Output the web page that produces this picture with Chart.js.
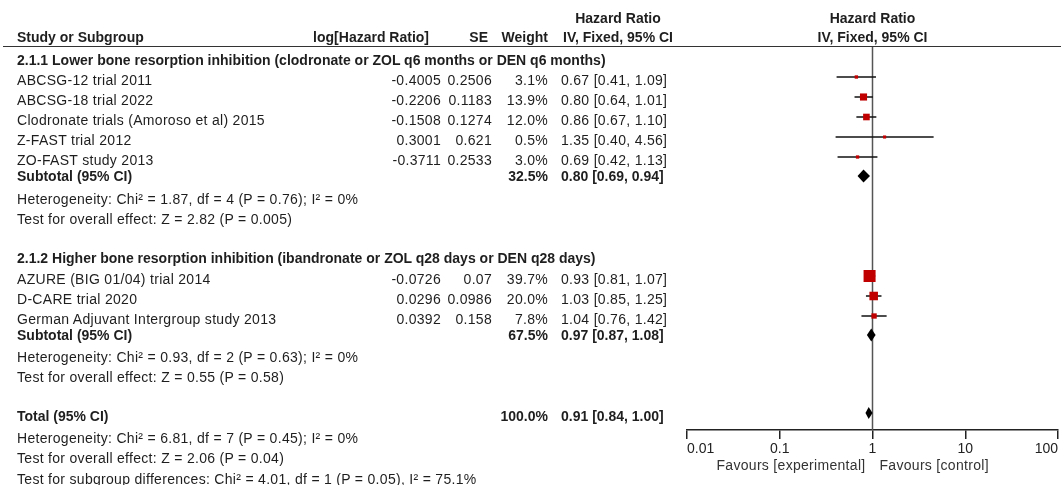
<!DOCTYPE html>
<html>
<head>
<meta charset="utf-8">
<script src="https://cdn.jsdelivr.net/npm/chart.js@4.4.1/dist/chart.umd.min.js"></script>
<style>
    body { margin: 0; background: #fff; }
    #wrap { position: relative; width: 1061px; height: 485px; overflow: hidden; }
    #forest { position: absolute; left: 0; top: 0; }
    .t {
        position: absolute;
        white-space: nowrap;
        font-family: 'Liberation Sans', Arial, sans-serif;
        color: #1e1e1e;
        letter-spacing: 0.3px;
    }
    .t.b { font-weight: bold; letter-spacing: 0; }
    .rule { position: absolute; left: 3px; right: 0; top: 46px; height: 0; border-top: 1.5px solid #333; }
</style>
</head>
<body>
<div id="wrap">
    <canvas id="forest" width="1061" height="485"></canvas>
    <div class="rule"></div>
</div>
<script>
/**
 * Forest plot - bone resorption inhibition subgroups
 */

// Studies
const studyNames = [
    'ABCSG-12 trial 2011',
    'ABCSG-18 trial 2022',
    'Clodronate trials (Amoroso et al) 2015',
    'Z-FAST trial 2012',
    'ZO-FAST study 2013',
    'AZURE (BIG 01/04) trial 2014',
    'D-CARE trial 2020',
    'German Adjuvant Intergroup study 2013'
];
const studyGroup = [0, 0, 0, 0, 0, 1, 1, 1];
const logHR = [-0.4005, -0.2206, -0.1508, 0.3001, -0.3711, -0.0726, 0.0296, 0.0392];
const seVals = [0.2506, 0.1183, 0.1274, 0.621, 0.2533, 0.07, 0.0986, 0.158];
const weights = [3.1, 13.9, 12.0, 0.5, 3.0, 39.7, 20.0, 7.8];
const hrVals = [0.67, 0.80, 0.86, 1.35, 0.69, 0.93, 1.03, 1.04];
const ciLow = [0.41, 0.64, 0.67, 0.40, 0.42, 0.81, 0.85, 0.76];
const ciHigh = [1.09, 1.01, 1.10, 4.56, 1.13, 1.07, 1.25, 1.42];

// Subgroups and pooled total
const groupTitles = [
    '2.1.1 Lower bone resorption inhibition (clodronate or ZOL q6 months or DEN q6 months)',
    '2.1.2 Higher bone resorption inhibition (ibandronate or ZOL q28 days or DEN q28 days)'
];
const subWeights = [32.5, 67.5];
const subHR = [0.80, 0.97];
const subLow = [0.69, 0.87];
const subHigh = [0.94, 1.08];
const subHetero = [
    'Heterogeneity: Chi² = 1.87, df = 4 (P = 0.76); I² = 0%',
    'Heterogeneity: Chi² = 0.93, df = 2 (P = 0.63); I² = 0%'
];
const subEffect = [
    'Test for overall effect: Z = 2.82 (P = 0.005)',
    'Test for overall effect: Z = 0.55 (P = 0.58)'
];
const totalWeight = 100.0;
const totalHR = 0.91;
const totalLow = 0.84;
const totalHigh = 1.00;
const totalNotes = [
    'Heterogeneity: Chi² = 6.81, df = 7 (P = 0.45); I² = 0%',
    'Test for overall effect: Z = 2.06 (P = 0.04)',
    'Test for subgroup differences: Chi² = 4.01, df = 1 (P = 0.05), I² = 75.1%'
];

// Axis
const xTicks = [0.01, 0.1, 1, 10, 100];
const xTickLabels = ['0.01', '0.1', '1', '10', '100'];

// Row slots (plot rows, top to bottom)
const studyRow = [1, 2, 3, 4, 5, 10.95, 11.95, 12.95];
const groupRow = [0, 9.9];
const subRow = [5.95, 13.9];
const heteroRow = [6.95, 14.85];
const effectRow = [7.95, 15.85];
const totalRow = 17.8;
const noteRow = [18.9, 19.9, 20.95];

const FONT = "'Liberation Sans', Arial, sans-serif";
const FS = 14;
const RED = '#c00000';

function placeText(str, x, baseline, opts = {}) {
    const size = opts.size || FS;
    const el = document.createElement('div');
    el.className = opts.bold ? 't b' : 't';
    el.textContent = str;
    el.style.fontSize = size + 'px';
    el.style.lineHeight = size + 'px';
    if (opts.color) el.style.color = opts.color;
    el.style.top = (baseline - size * 0.8465) + 'px';
    if (opts.align === 'right') {
        el.style.left = (x - 600) + 'px';
        el.style.width = '600px';
        el.style.textAlign = 'right';
    } else if (opts.align === 'center') {
        el.style.left = (x - 300) + 'px';
        el.style.width = '600px';
        el.style.textAlign = 'center';
    } else {
        el.style.left = x + 'px';
    }
    document.getElementById('wrap').appendChild(el);
}

function diamond(ctx, xs, y, hr, lo, hi, h) {
    ctx.beginPath();
    ctx.moveTo(xs.getPixelForValue(lo), y);
    ctx.lineTo(xs.getPixelForValue(hr), y - h / 2);
    ctx.lineTo(xs.getPixelForValue(hi), y);
    ctx.lineTo(xs.getPixelForValue(hr), y + h / 2);
    ctx.closePath();
    ctx.fill();
}

const forestMarks = {
    id: 'forestMarks',
    beforeDatasetsDraw(chart) {
        const { ctx, chartArea, scales: { x, y } } = chart;
        ctx.save();
        // line of no effect
        ctx.strokeStyle = '#555';
        ctx.lineWidth = 1.5;
        const x1 = x.getPixelForValue(1);
        ctx.beginPath();
        ctx.moveTo(x1, chartArea.top);
        ctx.lineTo(x1, chartArea.bottom);
        ctx.stroke();
        // confidence intervals
        ctx.strokeStyle = '#111';
        ctx.lineWidth = 1.5;
        studyNames.forEach((_, i) => {
            const py = y.getPixelForValue(studyRow[i]);
            ctx.beginPath();
            ctx.moveTo(x.getPixelForValue(ciLow[i]), py);
            ctx.lineTo(x.getPixelForValue(ciHigh[i]), py);
            ctx.stroke();
        });
        ctx.restore();
    },
    afterDatasetsDraw(chart) {
        const { ctx, scales: { x, y } } = chart;
        ctx.save();
        ctx.fillStyle = '#000';
        subHR.forEach((hr, g) => {
            diamond(ctx, x, y.getPixelForValue(subRow[g]), hr, subLow[g], subHigh[g], 13);
        });
        diamond(ctx, x, y.getPixelForValue(totalRow), totalHR, totalLow, totalHigh, 12);
        ctx.restore();
    }
};

const boxRadius = ctx => Math.max(2.2, 1.35 * Math.sqrt(weights[ctx.dataIndex]));

const chart = new Chart(document.getElementById('forest'), {
    type: 'scatter',
    data: {
        datasets: [{
            data: hrVals.map((v, i) => ({ x: v, y: studyRow[i] })),
            backgroundColor: RED,
            borderWidth: 0,
            pointStyle: 'rect',
            pointRadius: boxRadius,
            pointHoverRadius: boxRadius
        }]
    },
    options: {
        responsive: false,
        animation: false,
        events: [],
        layout: { autoPadding: false, padding: { left: 687, right: 3, top: 47, bottom: 15 } },
        plugins: { legend: { display: false }, tooltip: { enabled: false } },
        scales: {
            x: {
                type: 'logarithmic',
                position: 'bottom',
                min: 0.01,
                max: 100,
                afterBuildTicks: scale => { scale.ticks = xTicks.map(v => ({ value: v })); },
                afterFit: scale => {
                    scale.height = 40;
                    scale.paddingLeft = 0;
                    scale.paddingRight = 0;
                },
                grid: { drawOnChartArea: false, drawTicks: true, tickLength: 9, color: '#222', lineWidth: 1.5 },
                border: { display: true, color: '#222', width: 1.5 },
                ticks: {
                    align: 'inner',
                    autoSkip: false,
                    maxRotation: 0,
                    padding: 2,
                    color: '#222',
                    font: { family: FONT, size: 14 },
                    callback: (value, index) => xTickLabels[index]
                }
            },
            y: {
                type: 'linear',
                display: false,
                reverse: true,
                min: -0.5,
                max: 18.65
            }
        }
    },
    plugins: [forestMarks]
});

// Table text
const yS = chart.scales.y;
const xS = chart.scales.x;
const base = row => yS.getPixelForValue(row) + 8;
const NAME_X = 17, LOG_R = 441, SE_R = 492, W_R = 548, HR_L = 561;
const fmtCI = (hr, lo, hi) => `${hr.toFixed(2)} [${lo.toFixed(2)}, ${hi.toFixed(2)}]`;

// headers
placeText('Study or Subgroup', NAME_X, 42, { bold: true });
placeText('log[Hazard Ratio]', 429, 42, { bold: true, align: 'right' });
placeText('SE', 488, 42, { bold: true, align: 'right' });
placeText('Weight', W_R, 42, { bold: true, align: 'right' });
placeText('Hazard Ratio', 618, 23, { bold: true, align: 'center' });
placeText('IV, Fixed, 95% CI', 618, 42, { bold: true, align: 'center' });
const x1 = xS.getPixelForValue(1);
placeText('Hazard Ratio', x1, 23, { bold: true, align: 'center' });
placeText('IV, Fixed, 95% CI', x1, 42, { bold: true, align: 'center' });

groupTitles.forEach((title, g) => {
    placeText(title, NAME_X, base(groupRow[g]), { bold: true });
    studyNames.forEach((name, i) => {
        if (studyGroup[i] !== g) return;
        const b = base(studyRow[i]);
        placeText(name, NAME_X, b);
        placeText(String(logHR[i]), LOG_R, b, { align: 'right' });
        placeText(String(seVals[i]), SE_R, b, { align: 'right' });
        placeText(weights[i].toFixed(1) + '%', W_R, b, { align: 'right' });
        placeText(fmtCI(hrVals[i], ciLow[i], ciHigh[i]), HR_L, b);
    });
    const sb = yS.getPixelForValue(subRow[g]) + 5;
    placeText('Subtotal (95% CI)', NAME_X, sb, { bold: true });
    placeText(subWeights[g].toFixed(1) + '%', W_R, sb, { bold: true, align: 'right' });
    placeText(fmtCI(subHR[g], subLow[g], subHigh[g]), HR_L, sb, { bold: true });
    placeText(subHetero[g], NAME_X, base(heteroRow[g]));
    placeText(subEffect[g], NAME_X, base(effectRow[g]));
});

const tb = base(totalRow);
placeText('Total (95% CI)', NAME_X, tb, { bold: true });
placeText(totalWeight.toFixed(1) + '%', W_R, tb, { bold: true, align: 'right' });
placeText(fmtCI(totalHR, totalLow, totalHigh), HR_L, tb, { bold: true });
totalNotes.forEach((note, k) => placeText(note, NAME_X, base(noteRow[k])));

placeText('Favours [experimental]', x1 - 7, 470, { align: 'right', color: '#333' });
placeText('Favours [control]', x1 + 7, 470, { color: '#333' });
</script>
</body>
</html>
